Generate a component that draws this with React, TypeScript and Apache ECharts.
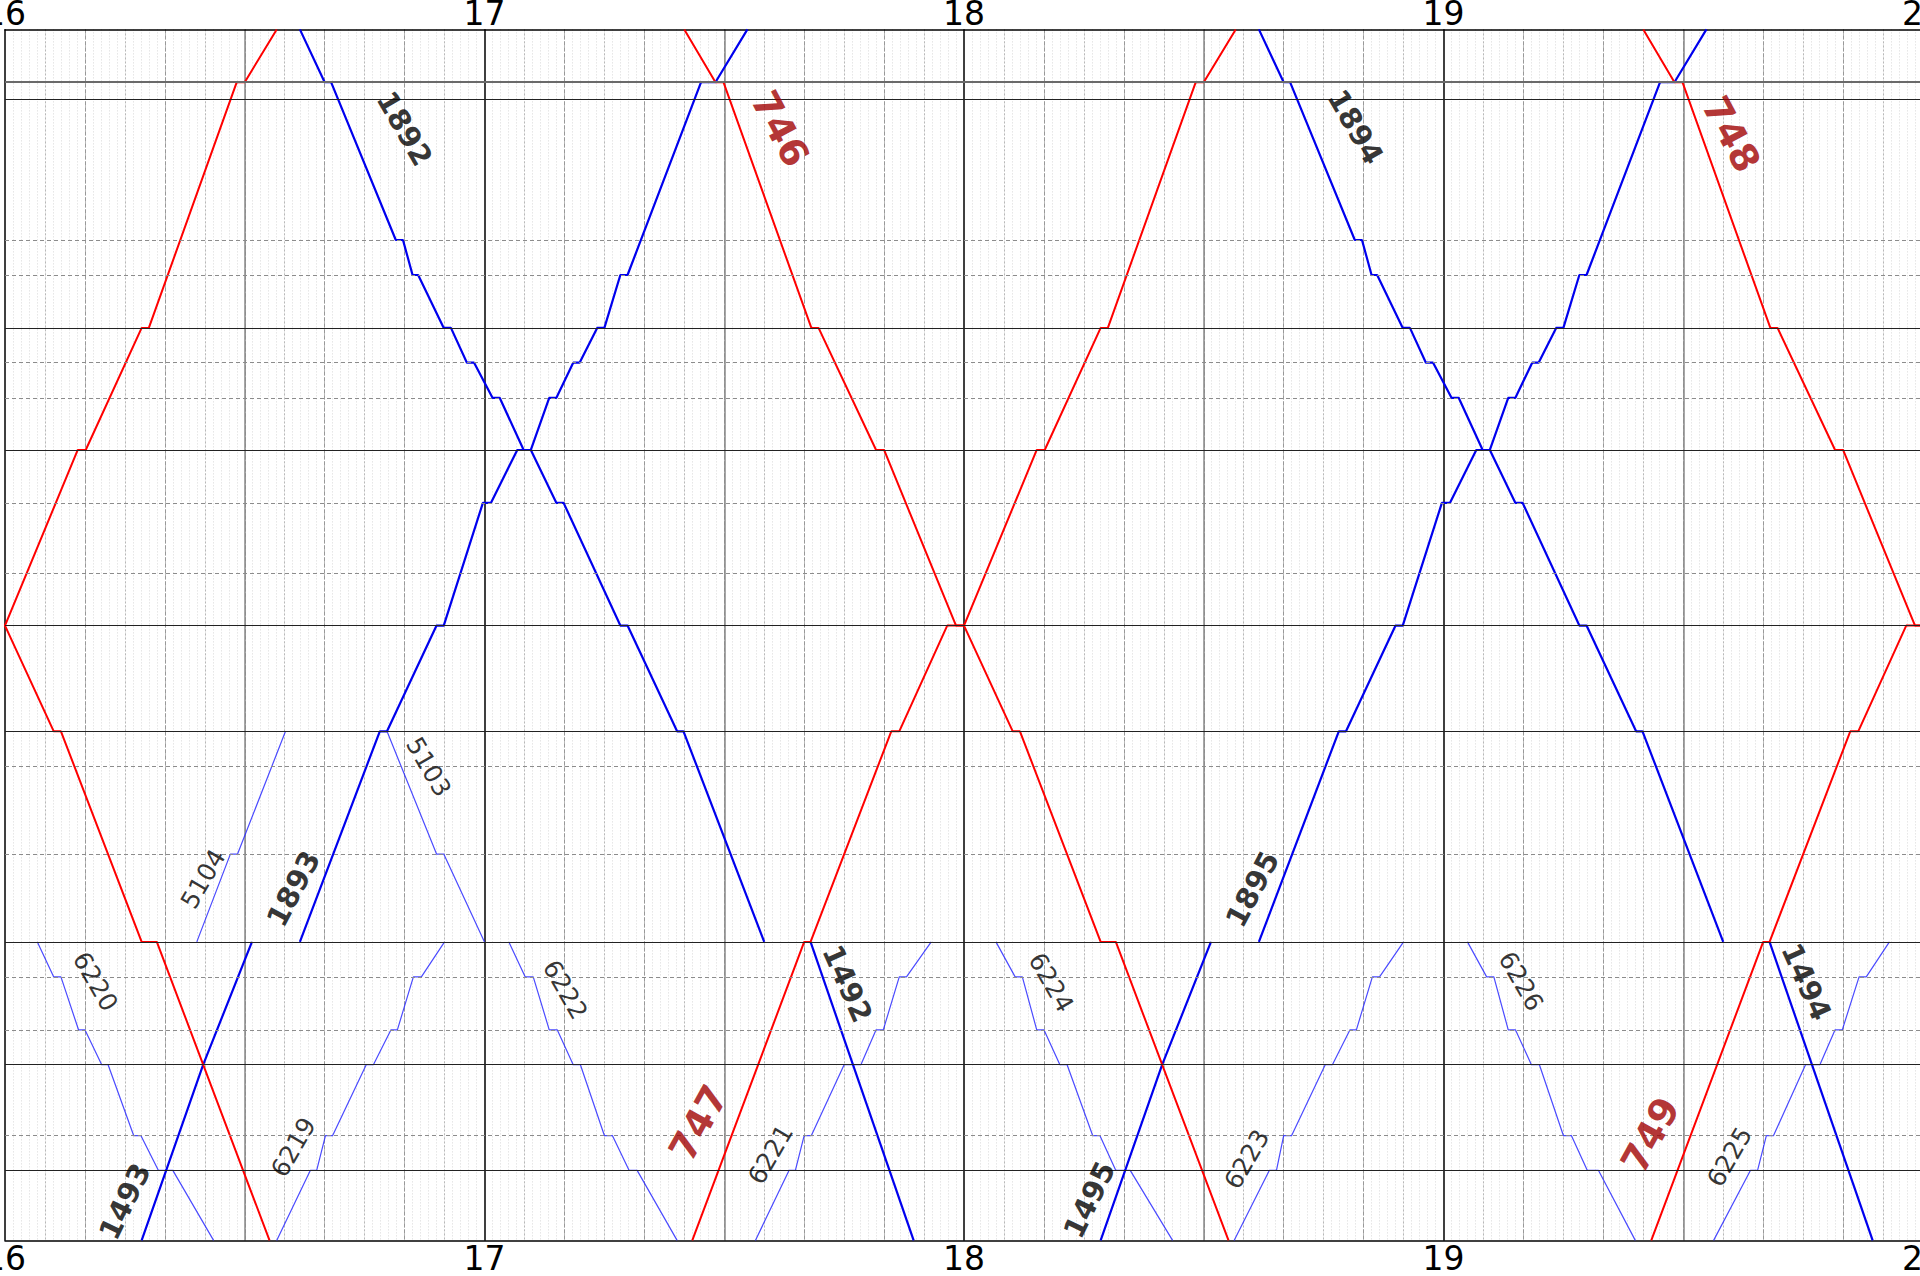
import React, { useEffect, useRef } from "react";
import * as echarts from "echarts";

// ---- axes (minutes after 16:00, station position 0..1000 top->bottom)
const HOUR_START = 16;
const X_MIN = 0;
const X_MAX = 240;
const Y_MIN = 0;
const Y_MAX = 1000;

// ---- stations (position along the line)
const S1 = 43.6, S2 = 57.7, S3 = 173.9, S4 = 202.8, S5 = 246.5, S6 = 275.2, S7 = 304.2;
const S8 = 347.3, S9 = 391.0, S10 = 449.3, S11 = 492.3, S12 = 579.6, S13 = 608.5, S14 = 681.0;
const S15 = 753.5, S16 = 782.4, S17 = 826.1, S18 = 854.9, S19 = 913.4, S20 = 942.2;
const TOP = 0, BOT = 1000;

const STATIONS_GRAY = [S1];
const STATIONS_SOLID = [S2, S5, S8, S11, S12, S15, S18, S20];
const STATIONS_DASHED = [S3, S4, S6, S7, S9, S10, S13, S14, S16, S17, S19];

// ---- red trains [minute, position]
const TRAIN_744 = [[-1, S11], [0, S11], [6.1, S12], [7.0, S12], [17.1, S15], [19.0, S15], [33.1, BOT]];
const TRAIN_745 = [[-2, S11], [0, S11], [9.1, S8], [10.1, S8], [17.1, S5], [18.0, S5], [29.0, S1], [30.0, S1], [34.0, TOP]];
const TRAIN_746 = [[85.0, TOP], [88.9, S1], [89.9, S1], [100.9, S5], [101.8, S5], [109.0, S8], [110.0, S8], [119.0, S11], [120.0, S11], [126.1, S12], [127.0, S12], [137.1, S15], [139.0, S15], [153.1, BOT]];
const TRAIN_747 = [[86.0, BOT], [100.0, S15], [100.8, S15], [110.9, S12], [111.9, S12], [117.9, S11], [120.0, S11], [129.1, S8], [130.1, S8], [137.1, S5], [138.0, S5], [149.0, S1], [150.0, S1], [154.0, TOP]];
const TRAIN_748 = [[205.0, TOP], [208.9, S1], [209.9, S1], [220.9, S5], [221.8, S5], [229.0, S8], [230.0, S8], [239.0, S11], [240.0, S11], [246.1, S12]];
const TRAIN_749 = [[206.0, BOT], [220.0, S15], [220.8, S15], [230.9, S12], [231.9, S12], [237.9, S11], [240.0, S11], [249.1, S8]];

// ---- blue main trains
const TRAIN_1892 = [[36.9, TOP], [40.0, S1], [40.8, S1], [48.9, S3], [49.8, S3], [51.0, S4], [51.7, S4], [54.9, S5], [55.8, S5], [57.8, S6], [58.7, S6], [61.0, S7], [61.9, S7], [64.9, S8], [65.8, S8], [69.0, S9], [69.9, S9], [77.0, S11], [77.9, S11], [84.1, S12], [84.9, S12], [95.0, S15]];
const TRAIN_1894 = [[156.9, TOP], [160.0, S1], [160.8, S1], [168.9, S3], [169.8, S3], [171.0, S4], [171.7, S4], [174.9, S5], [175.8, S5], [177.8, S6], [178.7, S6], [181.0, S7], [181.9, S7], [184.9, S8], [185.8, S8], [189.0, S9], [189.9, S9], [197.0, S11], [197.9, S11], [204.1, S12], [204.9, S12], [215.0, S15]];
const TRAIN_1893 = [[36.9, S15], [46.9, S12], [47.8, S12], [54.0, S11], [54.9, S11], [59.8, S9], [60.8, S9], [64.1, S8], [65.8, S8], [68.1, S7], [69.0, S7], [71.1, S6], [71.9, S6], [74.1, S5], [75.0, S5], [77.0, S4], [77.9, S4], [87.1, S1], [88.9, S1], [92.9, TOP]];
const TRAIN_1895 = [[156.9, S15], [166.9, S12], [167.8, S12], [174.0, S11], [174.9, S11], [179.8, S9], [180.8, S9], [184.1, S8], [185.8, S8], [188.1, S7], [189.0, S7], [191.1, S6], [191.9, S6], [194.1, S5], [195.0, S5], [197.0, S4], [197.9, S4], [207.1, S1], [208.9, S1], [212.9, TOP]];
const TRAIN_1492 = [[100.8, S15], [113.7, BOT]];
const TRAIN_1494 = [[220.8, S15], [233.7, BOT]];
const TRAIN_1493 = [[17.1, BOT], [24.8, S18], [30.9, S15]];
const TRAIN_1495 = [[137.1, BOT], [144.8, S18], [150.9, S15]];

// ---- blue local trains
const TRAIN_5104 = [[24.0, S15], [28.2, S14], [29.1, S14], [35.1, S12]];
const TRAIN_5103 = [[47.8, S12], [54.0, S14], [54.9, S14], [60.0, S15]];
const TRAIN_6220 = [[4.05, S15], [6.1, S16], [7.0, S16], [9.2, S17], [10.0, S17], [12.1, S18], [12.9, S18], [16.1, S19], [17.0, S19], [19.2, S20], [21.0, S20], [26.1, BOT]];
const TRAIN_6219 = [[34.0, BOT], [38.2, S20], [39.0, S20], [40.1, S19], [41.0, S19], [45.2, S18], [46.1, S18], [48.3, S17], [49.1, S17], [51.1, S16], [52.1, S16], [55.0, S15]];
const TRAIN_6222 = [[63.05, S15], [65.1, S16], [66.1, S16], [68.1, S17], [69.1, S17], [71.1, S18], [72.0, S18], [75.0, S19], [76.0, S19], [78.1, S20], [79.1, S20], [84.1, BOT]];
const TRAIN_6221 = [[93.9, BOT], [98.1, S20], [98.9, S20], [100.0, S19], [100.9, S19], [105.0, S18], [107.1, S18], [109.0, S17], [109.9, S17], [111.9, S16], [112.8, S16], [115.9, S15]];
const TRAIN_6224 = [[124.0, S15], [126.4, S16], [127.3, S16], [129.1, S17], [130.0, S17], [132.0, S18], [132.9, S18], [136.1, S19], [137.0, S19], [139.0, S20], [140.8, S20], [146.1, BOT]];
const TRAIN_6223 = [[153.8, BOT], [158.2, S20], [159.1, S20], [160.0, S19], [161.0, S19], [165.2, S18], [166.1, S18], [168.3, S17], [169.1, S17], [171.1, S16], [172.0, S16], [175.0, S15]];
const TRAIN_6226 = [[183.0, S15], [185.4, S16], [186.3, S16], [188.1, S17], [189.0, S17], [191.0, S18], [192.0, S18], [195.0, S19], [196.0, S19], [198.0, S20], [199.4, S20], [204.0, BOT]];
const TRAIN_6225 = [[213.8, BOT], [218.4, S20], [219.3, S20], [220.4, S19], [221.3, S19], [225.3, S18], [227.1, S18], [229.0, S17], [229.9, S17], [232.0, S16], [232.9, S16], [235.8, S15]];

const RED_TRAINS = [TRAIN_744, TRAIN_745, TRAIN_746, TRAIN_747, TRAIN_748, TRAIN_749];
const BLUE_TRAINS = [TRAIN_1892, TRAIN_1894, TRAIN_1893, TRAIN_1895, TRAIN_1492, TRAIN_1494, TRAIN_1493, TRAIN_1495];
const LOCAL_TRAINS = [TRAIN_5104, TRAIN_5103, TRAIN_6220, TRAIN_6219, TRAIN_6222, TRAIN_6221, TRAIN_6224, TRAIN_6223, TRAIN_6226, TRAIN_6225];

// ---- train number labels
const LABEL_TEXT = ["1892", "1894", "746", "748", "1893", "1895", "5104", "5103", "6220", "6222", "6224", "6226", "6219", "6221", "6223", "6225", "747", "749", "1492", "1494", "1493", "1495"];
const LABEL_T = [50.0, 169.0, 97.0, 216.0, 36.1, 156.1, 24.8, 53.0, 11.3, 70.1, 130.9, 189.7, 36.1, 95.8, 155.4, 215.8, 86.8, 205.9, 105.4, 225.4, 15.0, 135.7];
const LABEL_Y = [81.9, 80.5, 82.0, 86.5, 709.5, 710.0, 701.6, 609.0, 786.3, 793.0, 787.0, 786.0, 923.0, 929.0, 933.0, 931.0, 903.0, 913.0, 788.0, 786.5, 967.8, 966.5];
const LABEL_ROT = [-60, -60, -62, -62, 62, 62, 60, -60, -60, -60, -60, -60, 60, 60, 60, 60, 61, 61, -66, -66, 64, 64];
const LABEL_KIND = ["bold", "bold", "red", "red", "bold", "bold", "thin", "thin", "thin", "thin", "thin", "thin", "thin", "thin", "thin", "thin", "red", "red", "bold", "bold", "bold", "bold"];

const FONT = "DejaVu Sans";

function hiddenX(interval: number, style: any) {
  return {
    type: "value",
    min: X_MIN,
    max: X_MAX,
    interval,
    position: "bottom",
    axisLine: { show: false },
    axisTick: { show: false },
    axisLabel: { show: false },
    splitLine: { show: true, lineStyle: style },
  };
}

function labelAxis(position: string, margin: number) {
  return {
    type: "value",
    min: X_MIN,
    max: X_MAX,
    interval: 60,
    position,
    axisLine: { show: true, onZero: false, lineStyle: { color: "#000", width: 1.5 } },
    axisTick: { show: false },
    axisLabel: {
      show: true,
      fontFamily: FONT,
      fontSize: 33,
      lineHeight: 26,
      color: "#000",
      margin,
      formatter: (v: number) => String(HOUR_START + v / 60),
    },
    splitLine: { show: true, lineStyle: { color: "#3a3a3a", width: 1.5 } },
  };
}

function stationLines(values: number[], style: any) {
  return values.map((v) => ({ yAxis: v, lineStyle: style }));
}

function trainSeries(data: number[][], color: string, width: number, opacity = 1) {
  return {
    type: "line",
    xAxisIndex: 4,
    yAxisIndex: 0,
    data,
    showSymbol: false,
    symbol: "none",
    silent: true,
    z: 3,
    clip: true,
    lineStyle: { color, width, opacity },
  };
}

export default function App() {
  const ref = useRef<HTMLDivElement>(null);

  useEffect(() => {
    if (!ref.current) return;
    const chart = echarts.init(ref.current, undefined, { renderer: "svg" });

    const labelData = LABEL_TEXT.map((text, i) => {
      const kind = LABEL_KIND[i];
      const style =
        kind === "red"
          ? { color: "#a00000", fontWeight: "bold", fontSize: 38 }
          : kind === "bold"
          ? { color: "#000", fontWeight: "bold", fontSize: 29 }
          : { color: "#000", fontWeight: "normal", fontSize: 25 };
      return {
        value: [LABEL_T[i], LABEL_Y[i]],
        label: {
          show: true,
          formatter: text,
          rotate: LABEL_ROT[i],
          position: "inside",
          align: "center",
          verticalAlign: "middle",
          fontFamily: FONT,
          ...style,
        },
      };
    });

    const option: any = {
      animation: false,
      backgroundColor: "#fff",
      textStyle: { fontFamily: FONT },
      grid: {
        left: 5,
        top: 29.4,
        width: 1918,
        height: 1211,
        containLabel: false,
        outerBoundsMode: "none",
      },
      xAxis: [
        hiddenX(1, { color: "#d8d8d8", width: 1, type: [1, 2] }),
        hiddenX(5, { color: "#b8b8b8", width: 1, type: [2, 2] }),
        hiddenX(10, { color: "#999", width: 1, type: [4, 2] }),
        hiddenX(30, { color: "#8a8a8a", width: 1.5, type: "solid" }),
        labelAxis("bottom", 5.5),
        labelAxis("top", 2.5),
      ],
      yAxis: [
        {
          type: "value",
          min: Y_MIN,
          max: Y_MAX,
          inverse: true,
          axisLine: { show: false },
          axisTick: { show: false },
          axisLabel: { show: false },
          splitLine: { show: false },
        },
      ],
      series: [
        {
          type: "line",
          xAxisIndex: 4,
          yAxisIndex: 0,
          data: [],
          z: 1,
          silent: true,
          markLine: {
            silent: true,
            symbol: ["none", "none"],
            label: { show: false },
            emphasis: { disabled: true },
            data: [
              ...stationLines(STATIONS_DASHED, { color: "#8c8c8c", width: 1, type: [4, 3] }),
              ...stationLines(STATIONS_GRAY, { color: "#6a6a6a", width: 2, type: "solid" }),
              ...stationLines(STATIONS_SOLID, { color: "#222", width: 1.2, type: "solid" }),
            ],
          },
        },
        ...LOCAL_TRAINS.map((d) => trainSeries(d, "#2a2aff", 1.2, 0.85)),
        ...BLUE_TRAINS.map((d) => trainSeries(d, "#0000ee", 2.2)),
        ...RED_TRAINS.map((d) => trainSeries(d, "#ff0000", 2)),
        {
          type: "scatter",
          xAxisIndex: 4,
          yAxisIndex: 0,
          symbolSize: 1,
          itemStyle: { color: "rgba(0,0,0,0)" },
          silent: true,
          z: 5,
          data: labelData,
        },
      ],
    };

    chart.setOption(option);
    return () => chart.dispose();
  }, []);

  return (
    <div
      ref={ref}
      style={{ position: "absolute", left: 0, top: 0, width: 1920, height: 1276, background: "#fff" }}
    />
  );
}
